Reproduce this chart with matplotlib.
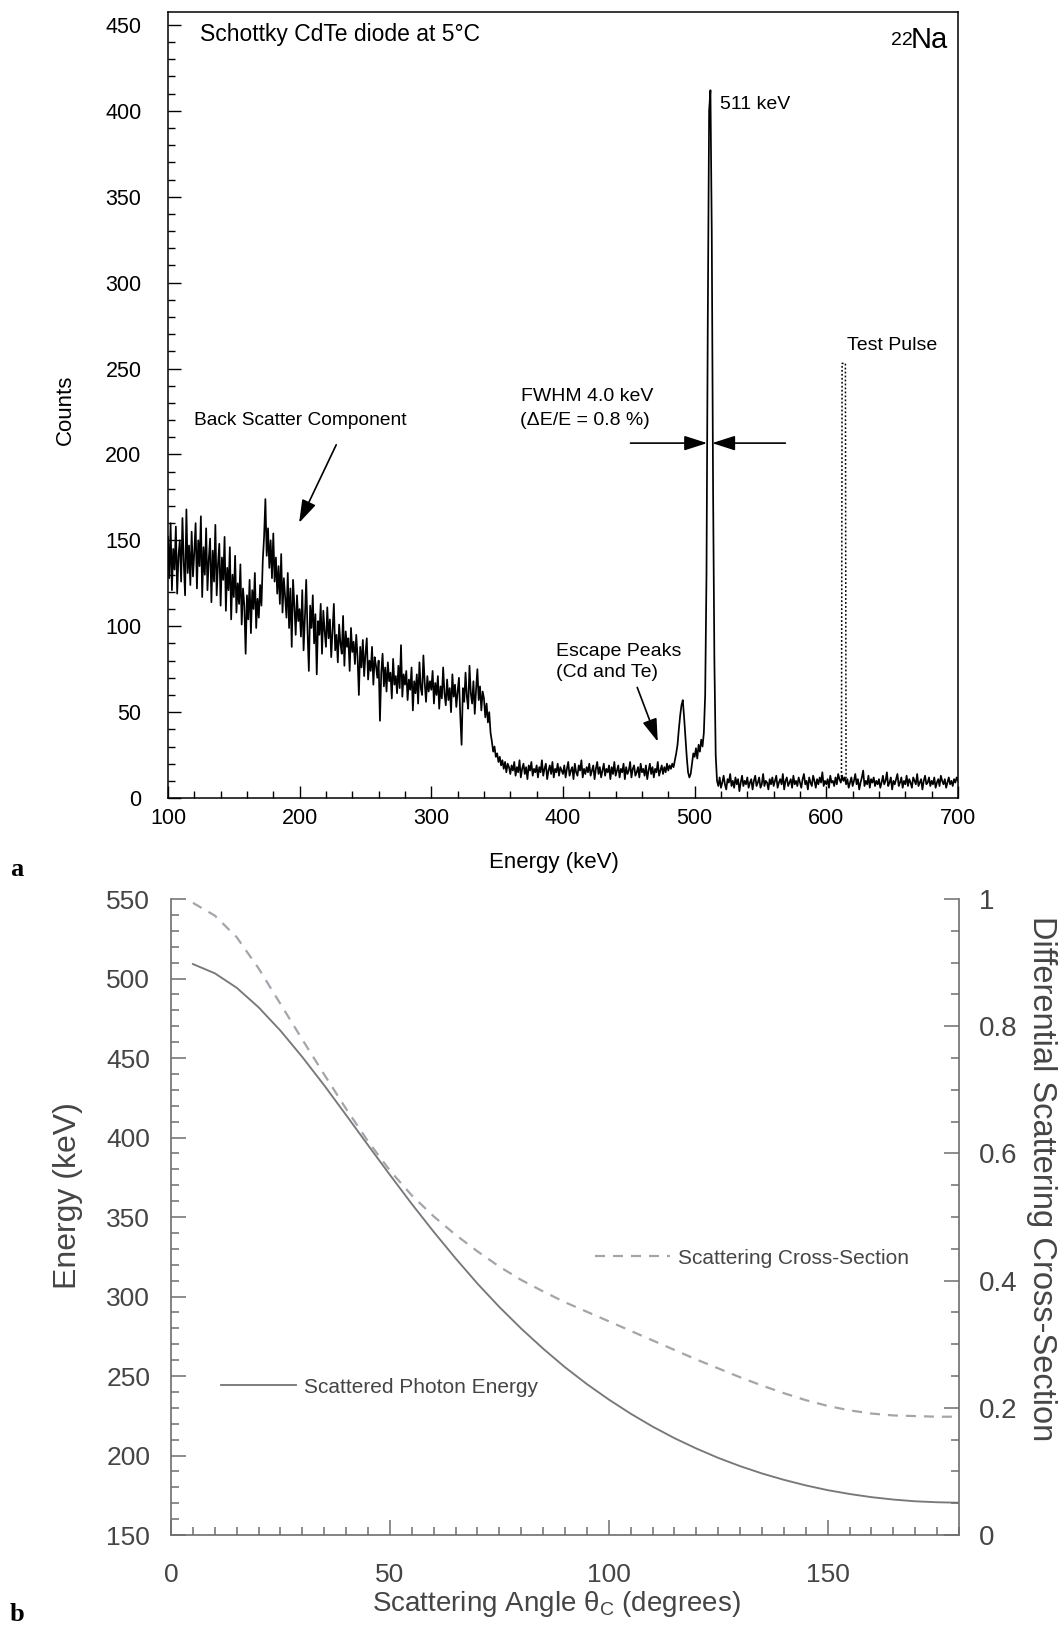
import numpy as np
import matplotlib
matplotlib.use("Agg")
import matplotlib.pyplot as plt
from matplotlib.ticker import MultipleLocator, FuncFormatter

plt.rcParams["font.family"] = ["Liberation Sans", "DejaVu Sans"]
plt.rcParams["mathtext.fontset"] = "custom"
plt.rcParams["mathtext.rm"] = "Liberation Sans"
plt.rcParams["mathtext.it"] = "Liberation Sans:italic"

# =========================================================
# DATA (a): 22Na spectrum, 1 keV channels from 100 keV
# =========================================================
counts_100_199 = [
    152, 128, 160, 121, 145, 133, 158, 119, 141, 150, 126, 163, 137, 118, 168, 131, 147, 124, 155, 129,
    143, 160, 122, 150, 135, 164, 117, 146, 130, 157, 121, 139, 151, 114, 144, 126, 159, 118, 136, 148,
    112, 140, 127, 152, 109, 134, 121, 146, 104, 130, 117, 141, 108, 125, 113, 136, 101, 122, 112, 84,
    118, 104, 127, 96, 121, 110, 131, 99, 116, 105, 124, 112, 138, 152, 174, 141, 157, 134, 150, 128,
    154, 126, 140, 119, 135, 113, 142, 108, 128, 117, 105, 131, 99, 122, 88, 127, 112, 95, 118, 103,
]
counts_200_299 = [
    110, 94, 121, 86, 105, 127, 97, 74, 112, 99, 118, 90, 107, 72, 103, 95, 113, 84, 109, 97,
    88, 111, 93, 104, 82, 98, 113, 86, 95, 79, 101, 90, 84, 106, 77, 97, 88, 93, 74, 99,
    85, 91, 78, 95, 82, 60, 88, 76, 92, 71, 84, 93, 69, 80, 74, 88, 66, 82, 77, 70,
    80, 45, 73, 84, 65, 76, 62, 79, 68, 73, 58, 81, 66, 71, 61, 77, 64, 89, 59, 72,
    66, 74, 57, 69, 63, 76, 51, 68, 61, 72, 55, 79, 64, 60, 83, 67, 56, 71, 62, 68,
]
counts_300_399 = [
    63, 74, 55, 67, 60, 71, 52, 65, 58, 76, 61, 54, 69, 57, 64, 50, 72, 59, 66, 53,
    62, 70, 48, 31, 64, 56, 73, 59, 52, 77, 61, 55, 68, 49, 63, 75, 57, 65, 51, 62,
    58, 47, 55, 44, 50, 38, 33, 27, 30, 24, 26, 21, 24, 19, 22, 17, 21, 15, 20, 18,
    14, 19, 16, 21, 13, 18, 15, 22, 12, 17, 20, 14, 18, 11, 19, 16, 21, 13, 17, 15,
    19, 12, 18, 15, 22, 13, 17, 20, 11, 16, 19, 14, 21, 12, 17, 15, 20, 13, 18, 16,
]
counts_400_499 = [
    14, 19, 12, 17, 21, 13, 16, 18, 11, 20, 15, 13, 19, 16, 22, 12, 17, 14, 18, 15,
    20, 13, 16, 19, 11, 17, 21, 14, 18, 12, 16, 20, 13, 17, 15, 19, 11, 18, 14, 21,
    13, 16, 19, 12, 17, 15, 20, 11, 18, 14, 16, 21, 12, 17, 19, 13, 15, 18, 12, 20,
    15, 17, 13, 19, 11, 16, 20, 14, 18, 12, 17, 15, 21, 13, 16, 19, 14, 18, 15, 20,
    16, 19, 17, 20, 18, 22, 26, 31, 40, 48, 54, 57, 47, 35, 24, 15, 12, 14, 20, 26,
]
counts_500_599 = [
    24, 29, 23, 31, 27, 34, 30, 38, 60, 130, 280, 400, 412, 330, 180, 80, 25, 10, 7, 12,
    6, 9, 13, 8, 5, 11, 9, 14, 7, 10, 6, 12, 8, 11, 4, 9, 13, 7, 10, 8,
    12, 6, 9, 11, 5, 10, 13, 7, 9, 12, 6, 8, 14, 7, 10, 9, 5, 11, 8, 12,
    7, 10, 13, 6, 9, 11, 8, 14, 5, 10, 12, 7, 9, 11, 6, 13, 8, 10, 7, 12,
    9, 6, 11, 14, 8, 10, 5, 12, 9, 7, 13, 10, 6, 11, 8, 12, 9, 15, 7, 10,
]
counts_600_700 = [
    8, 11, 6, 13, 9, 10, 7, 12, 8, 14, 11, 9, 13, 10, 12, 8, 11, 6, 9, 12,
    7, 10, 14, 8, 11, 5, 9, 12, 16, 7, 10, 8, 13, 6, 11, 9, 12, 7, 10, 8,
    11, 6, 9, 13, 8, 10, 15, 7, 9, 12, 5, 10, 8, 11, 14, 7, 9, 12, 6, 10,
    8, 13, 7, 11, 9, 6, 12, 10, 8, 14, 7, 9, 11, 5, 10, 13, 8, 9, 12, 7,
    10, 8, 12, 6, 9, 11, 7, 13, 10, 8, 11, 6, 9, 12, 8, 10, 7, 11, 9, 12, 10,
]
counts = np.array(counts_100_199 + counts_200_299 + counts_300_399
                  + counts_400_499 + counts_500_599 + counts_600_700)
energy = np.arange(100, 100 + len(counts))

# test pulse (dotted)
pulse_energy = [611.5, 612.0, 614.5, 615.0]
pulse_counts = [10, 253, 253, 10]

# =========================================================
# DATA (b): Compton kinematics for 511 keV photons
# =========================================================
angle_deg = [5, 10, 15, 20, 25, 30, 35, 40, 45, 50, 55, 60, 65, 70, 75, 80, 85, 90,
             95, 100, 105, 110, 115, 120, 125, 130, 135, 140, 145, 150, 155, 160, 165, 170, 175, 180]
photon_energy_kev = [509.1, 503.3, 494.2, 481.9, 467.2, 450.6, 432.8, 414.1, 395.2, 376.5,
                     358.2, 340.7, 324.0, 308.1, 293.4, 279.8, 267.2, 255.5, 244.9, 235.2,
                     226.3, 218.2, 210.9, 204.4, 198.5, 193.3, 188.7, 184.7, 181.2, 178.2,
                     175.8, 173.8, 172.3, 171.2, 170.6, 170.3]
cross_section = [0.994, 0.974, 0.940, 0.891, 0.835, 0.779, 0.724, 0.670, 0.619, 0.573,
                 0.534, 0.501, 0.472, 0.446, 0.422, 0.401, 0.383, 0.366, 0.351, 0.336,
                 0.321, 0.306, 0.291, 0.276, 0.262, 0.248, 0.235, 0.223, 0.212, 0.203,
                 0.196, 0.191, 0.188, 0.187, 0.186, 0.186]

# =========================================================
# FIGURE
# =========================================================
fig = plt.figure(figsize=(10.61, 16.29), dpi=100)

# ---------------- panel a ----------------
ax1 = fig.add_axes([0.1583, 0.5101, 0.7446, 0.4825])
ax1.plot(energy, counts, color="black", lw=1.25)
ax1.plot(pulse_energy, pulse_counts, color="black", lw=1.1, ls=(0, (1.2, 1.4)))
ax1.set_xlim(100, 700)
ax1.set_ylim(0, 457.5)
ax1.xaxis.set_major_locator(MultipleLocator(100))
ax1.xaxis.set_minor_locator(MultipleLocator(20))
ax1.yaxis.set_major_locator(MultipleLocator(50))
ax1.yaxis.set_minor_locator(MultipleLocator(10))
ax1.tick_params(which="both", direction="in", top=False, right=False, labelsize=15.5, width=1)
ax1.tick_params(which="major", length=9)
ax1.tick_params(which="minor", length=5)
ax1.tick_params(axis="y", pad=19)
ax1.tick_params(axis="x", pad=7)
for sp in ax1.spines.values():
    sp.set_linewidth(1.1)

ax1.text(0.0405, 0.972, "Schottky CdTe diode at 5°C", transform=ax1.transAxes,
         fontsize=16.5, ha="left", va="center")
ax1.text(0.943, 0.958, "22", transform=ax1.transAxes, fontsize=14, ha="right", va="baseline")
ax1.text(0.987, 0.954, "Na", transform=ax1.transAxes, fontsize=21, ha="right", va="baseline")

ax1.text(519.6, 403.4, "511 keV", fontsize=14, ha="left", va="center")
ax1.text(615.6, 263.7, "Test Pulse", fontsize=14, ha="left", va="center")
ax1.text(367.8, 233.6, "FWHM 4.0 keV", fontsize=14, ha="left", va="center")
ax1.text(367.0, 220.0, "(ΔE/E = 0.8 %)", fontsize=14, ha="left", va="center")
ax1.text(119.7, 220.0, "Back Scatter Component", fontsize=13.8, ha="left", va="center")
ax1.text(394.4, 85.2, "Escape Peaks", fontsize=14, ha="left", va="center")
ax1.text(394.4, 72.8, "(Cd and Te)", fontsize=14, ha="left", va="center")

arrow = dict(arrowstyle="-|>,head_length=1.4,head_width=0.45", color="black",
             lw=1.2, shrinkA=0, shrinkB=0, mutation_scale=10)
ax1.annotate("", xy=(509.5, 206.6), xytext=(451.3, 206.6), arrowprops=arrow)
ax1.annotate("", xy=(513.3, 206.6), xytext=(568.9, 206.6), arrowprops=arrow)
ax1.annotate("", xy=(199.6, 160.2), xytext=(227.8, 205.6), arrowprops=arrow)
ax1.annotate("", xy=(472.0, 32.8), xytext=(456.4, 64.4), arrowprops=arrow)

fig.text(0.0613, 0.7483, "Counts", rotation=90, fontsize=16, ha="center", va="center")
fig.text(0.522, 0.4708, "Energy (keV)", fontsize=16, ha="center", va="center")
fig.text(0.0095, 0.4622, "a", fontsize=19, fontweight="bold",
         family=["Liberation Serif", "DejaVu Serif"], ha="left", va="baseline")

# ---------------- panel b ----------------
grey = "#6e6e6e"
txt = "#454545"
ax2 = fig.add_axes([0.1612, 0.0577, 0.7427, 0.3904])
ax3 = ax2.twinx()
l1, = ax2.plot(angle_deg, photon_energy_kev, color="#787878", lw=1.35,
               label="Scattered Photon Energy")
l2, = ax3.plot(angle_deg, cross_section, color="#a4a4ae", lw=1.6, dashes=(4.5, 3.6),
               label="Scattering Cross-Section")
ax2.set_xlim(0, 180)
ax2.set_ylim(150, 550)
ax3.set_ylim(0, 1)

for a in (ax2, ax3):
    a.spines["top"].set_visible(False)
    for sp in a.spines.values():
        sp.set_color(grey)
        sp.set_linewidth(1.2)
ax2.spines["right"].set_visible(False)
ax3.spines["left"].set_visible(False)
ax3.spines["bottom"].set_visible(False)

ax2.xaxis.set_major_locator(MultipleLocator(50))
ax2.xaxis.set_minor_locator(MultipleLocator(5))
ax2.yaxis.set_major_locator(MultipleLocator(50))
ax2.yaxis.set_minor_locator(MultipleLocator(10))
ax3.yaxis.set_major_locator(MultipleLocator(0.2))
ax3.yaxis.set_minor_locator(MultipleLocator(0.05))
ax3.yaxis.set_major_formatter(FuncFormatter(lambda v, _: f"{v:g}"))

for a in (ax2, ax3):
    a.tick_params(which="both", direction="in", color=grey, labelcolor=txt, width=1.1)
    a.tick_params(which="major", length=11)
    a.tick_params(which="minor", length=6)
ax2.tick_params(axis="y", labelsize=19, pad=15, right=False)
ax2.tick_params(axis="x", labelsize=19, pad=20, top=False)
ax3.tick_params(axis="y", labelsize=20, pad=14)

leg1 = ax2.legend(handles=[l1], loc="center left", bbox_to_anchor=(11.4, 243.0),
                  bbox_transform=ax2.transData, frameon=False, borderpad=0, borderaxespad=0,
                  handlelength=3.6, handletextpad=0.4, fontsize=15, labelcolor=txt)
ax2.add_artist(leg1)
ax2.legend(handles=[l2], loc="center left", bbox_to_anchor=(96.8, 324.2),
           bbox_transform=ax2.transData, frameon=False, borderpad=0, borderaxespad=0,
           handlelength=3.6, handletextpad=0.4, fontsize=15, labelcolor=txt)

fig.text(0.064, 0.2658, "Energy (keV)", rotation=90, fontsize=23, color=txt,
         ha="center", va="center")
fig.text(0.524, 0.011, "Scattering Angle θ$_{\\rm C}$ (degrees)", fontsize=20, color=txt,
         ha="center", va="baseline")
fig.text(0.982, 0.2762, "Differential Scattering Cross-Section", rotation=-90, fontsize=23.5,
         color=txt, ha="center", va="center")
fig.text(0.0095, 0.005, "b", fontsize=19, fontweight="bold",
         family=["Liberation Serif", "DejaVu Serif"], ha="left", va="baseline")

fig.savefig("out.png", dpi=100)
